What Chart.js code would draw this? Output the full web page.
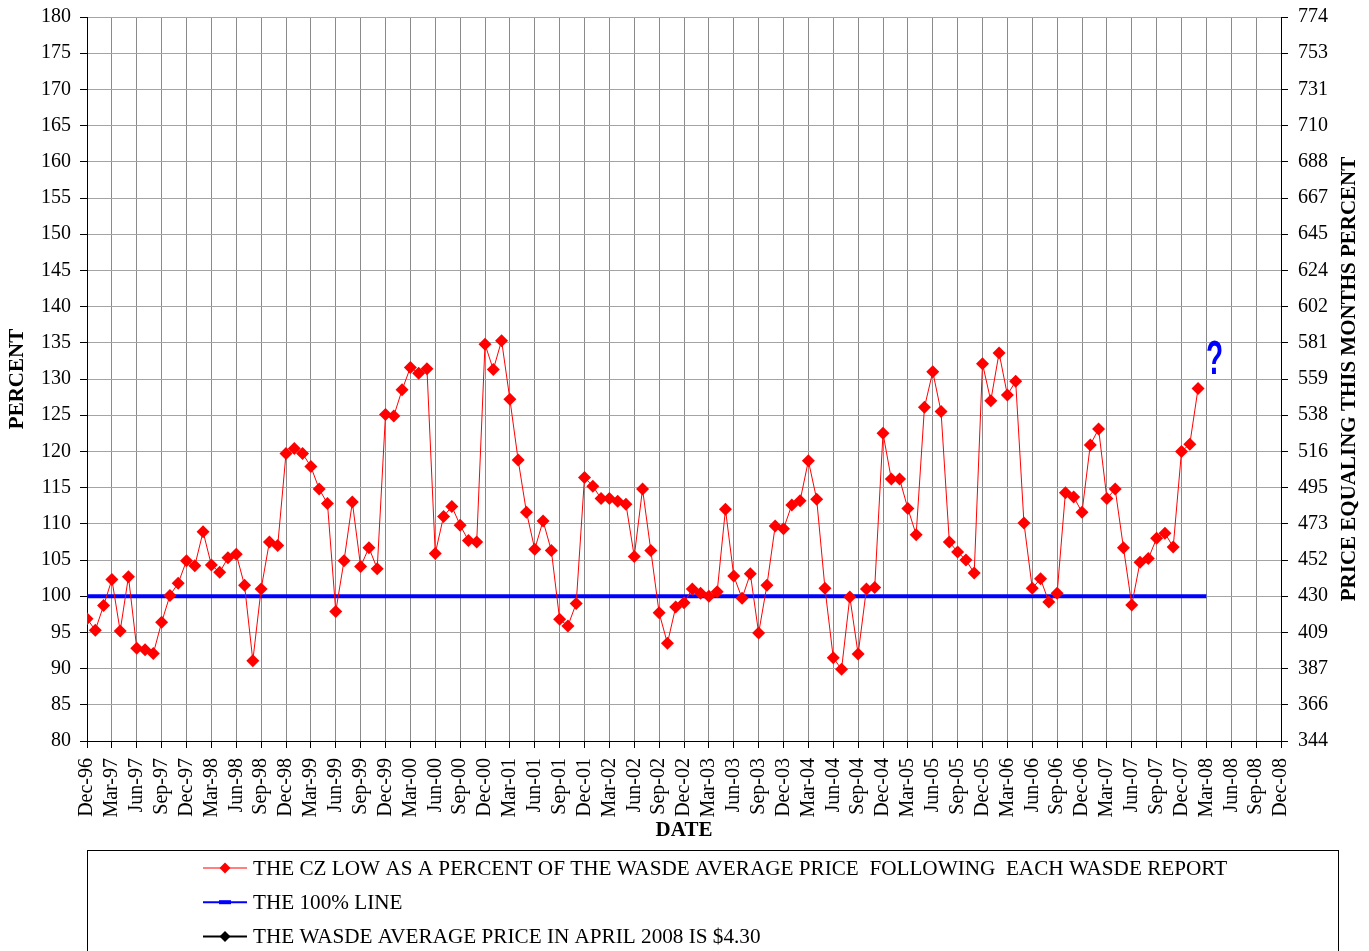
<!DOCTYPE html>
<html>
<head>
<meta charset="utf-8">
<title>CZ low as a percent of WASDE average price</title>
<script src="https://cdn.jsdelivr.net/npm/chart.js@4.4.1/dist/chart.umd.min.js"></script>
<style>
  html, body { margin: 0; padding: 0; background: #fff; }
  #wrap { width: 1369px; height: 951px; }
</style>
</head>
<body>
<div id="wrap"><canvas id="cz-chart" width="1369" height="951"></canvas></div>
<script>
// months counted from Dec-96 (index 0) to Dec-08 (index 144)
const xTickLabels = [
  'Dec-96', 'Mar-97', 'Jun-97', 'Sep-97', 'Dec-97', 'Mar-98', 'Jun-98', 'Sep-98',
  'Dec-98', 'Mar-99', 'Jun-99', 'Sep-99', 'Dec-99', 'Mar-00', 'Jun-00', 'Sep-00',
  'Dec-00', 'Mar-01', 'Jun-01', 'Sep-01', 'Dec-01', 'Mar-02', 'Jun-02', 'Sep-02',
  'Dec-02', 'Mar-03', 'Jun-03', 'Sep-03', 'Dec-03', 'Mar-04', 'Jun-04', 'Sep-04',
  'Dec-04', 'Mar-05', 'Jun-05', 'Sep-05', 'Dec-05', 'Mar-06', 'Jun-06', 'Sep-06',
  'Dec-06', 'Mar-07', 'Jun-07', 'Sep-07', 'Dec-07', 'Mar-08', 'Jun-08', 'Sep-08',
  'Dec-08'
];

// right axis: price equal to each percent of $4.30
const rightTickLabels = [
  '344', '366', '387', '409', '430', '452', '473', '495', '516', '538', '559',
  '581', '602', '624', '645', '667', '688', '710', '731', '753', '774'
];

// CZ low as % of WASDE average price, monthly Dec-96 .. Feb-08
const czLowPct = [
  96.9, 95.3, 98.7, 102.3, 95.2, 102.7, 92.8, 92.6, 92.1, 96.4, 100.1, 101.8,
  104.9, 104.2, 108.9, 104.3, 103.3, 105.3, 105.8, 101.5, 91.1, 101.0, 107.5, 107.0,
  119.7, 120.4, 119.7, 117.9, 114.8, 112.8, 97.9, 104.9, 113.0, 104.1, 106.7, 103.8,
  125.1, 124.9, 128.5, 131.6, 130.8, 131.4, 105.9, 111.0, 112.4, 109.8, 107.7, 107.5,
  134.8, 131.3, 135.3, 127.2, 118.8, 111.6, 106.5, 110.4, 106.3, 96.8, 95.9, 99.0,
  116.4, 115.2, 113.5, 113.5, 113.1, 112.7, 105.5, 114.8, 106.3, 97.7, 93.5, 98.5,
  99.1, 101.0, 100.4, 100.0, 100.6, 112.0, 102.8, 99.7, 103.1, 94.9, 101.5, 109.7,
  109.3, 112.6, 113.2, 118.7, 113.4, 101.1, 91.5, 89.9, 99.9, 92.0, 101.0, 101.2,
  122.5, 116.2, 116.2, 112.1, 108.5, 126.1, 131.0, 125.5, 107.5, 106.1, 105.0, 103.2,
  132.1, 127.0, 133.6, 127.8, 129.7, 110.1, 101.1, 102.4, 99.2, 100.4, 114.3, 113.7,
  111.6, 120.9, 123.1, 113.5, 114.8, 106.7, 98.8, 104.7, 105.2, 108.0, 108.7, 106.8,
  120.0, 121.0, 128.7
];

// the 100% line runs Dec-96 .. Mar-08
const hundredLineMonths = [0, 135];
const hundredLineValues = [100, 100];

const seriesLabels = [
  'THE CZ LOW AS A PERCENT OF THE WASDE AVERAGE PRICE  FOLLOWING  EACH WASDE REPORT',
  'THE 100% LINE',
  'THE WASDE AVERAGE PRICE IN APRIL 2008 IS $4.30'
];

const questionMark = { month: 136, value: 132.6 };

const SERIF = "'Liberation Serif', 'Times New Roman', serif";
const tickFont = { family: SERIF, size: 20 };
const titleFont = { family: SERIF, size: 21, weight: 'bold' };

// fixed axis box sizes so the plot area lands where the original has it
function fixWidth(w) {
  return s => {
    s.width = w;
    s.paddingTop = 0;
    s.paddingBottom = 0;
  };
}

// legend box, right title and the "?" note
const decorPlugin = {
  id: 'decor',
  afterDraw(chart) {
    const ctx = chart.ctx;
    const area = chart.chartArea;
    const xs = chart.scales.x, ys = chart.scales.y;

    // right axis title reads bottom to top
    ctx.save();
    ctx.font = 'bold 21px ' + SERIF;
    ctx.fillStyle = '#000';
    ctx.textAlign = 'center';
    ctx.textBaseline = 'middle';
    ctx.translate(chart.scales.y2.right - 19, (area.top + area.bottom) / 2);
    ctx.rotate(-Math.PI / 2);
    ctx.fillText('PRICE EQUALING THIS MONTHS PERCENT', 0, 0);
    ctx.restore();

    // blue question mark after the last point
    ctx.save();
    ctx.fillStyle = '#0000ff';
    ctx.font = "bold 28px 'Liberation Sans', Arial, sans-serif";
    ctx.textAlign = 'center';
    ctx.textBaseline = 'middle';
    ctx.translate(xs.getPixelForValue(questionMark.month), ys.getPixelForValue(questionMark.value));
    ctx.scale(1, 1.75);
    ctx.fillText('?', 0, 0);
    ctx.restore();

    // legend box
    ctx.save();
    ctx.strokeStyle = '#000';
    ctx.lineWidth = 1;
    ctx.strokeRect(87.5, 850.5, 1251, 200);
    ctx.font = '21.2px ' + SERIF;
    ctx.textBaseline = 'middle';
    ctx.textAlign = 'left';
    chart.data.datasets.forEach((ds, i) => {
      const cy = 868 + i * 34.2;
      ctx.strokeStyle = ds.borderColor;
      ctx.fillStyle = ds.borderColor;
      ctx.lineWidth = i === 0 ? 1 : 2;
      ctx.beginPath();
      ctx.moveTo(203, cy);
      ctx.lineTo(247, cy);
      ctx.stroke();
      if (ds.pointStyle === 'rectRot') {
        ctx.beginPath();
        ctx.moveTo(225, cy - 5.5);
        ctx.lineTo(230.5, cy);
        ctx.lineTo(225, cy + 5.5);
        ctx.lineTo(219.5, cy);
        ctx.closePath();
        ctx.fill();
      } else {
        ctx.fillRect(219, cy - 2, 12, 4);
      }
      ctx.fillStyle = '#000';
      ctx.fillText(ds.label, 253, cy + 1);
    });
    ctx.restore();
  }
};

const canvas = document.getElementById('cz-chart');

new Chart(canvas.getContext('2d'), {
  type: 'line',
  data: {
    datasets: [
      {
        label: seriesLabels[0],
        data: czLowPct.map((v, i) => ({ x: i, y: v })),
        borderColor: '#ff0000',
        backgroundColor: '#ff0000',
        borderWidth: 1,
        tension: 0,
        pointStyle: 'rectRot',
        pointRadius: 6.5,
        pointBorderWidth: 0,
        pointBackgroundColor: '#ff0000',
        order: 1
      },
      {
        label: seriesLabels[1],
        data: hundredLineMonths.map((m, i) => ({ x: m, y: hundredLineValues[i] })),
        borderColor: '#0000ff',
        backgroundColor: '#0000ff',
        borderWidth: 4,
        pointRadius: 0,
        pointStyle: 'rect',
        order: 2
      },
      {
        label: seriesLabels[2],
        data: [],
        borderColor: '#000000',
        backgroundColor: '#000000',
        borderWidth: 2,
        pointStyle: 'rectRot',
        pointRadius: 5
      }
    ]
  },
  options: {
    responsive: false,
    animation: false,
    layout: { padding: { top: 17, bottom: 101, left: 0, right: 0 } },
    plugins: {
      legend: { display: false },
      tooltip: { enabled: false }
    },
    scales: {
      x: {
        type: 'linear',
        min: 0,
        max: 144,
        afterFit: s => { s.height = 109; },
        border: { color: '#000', width: 1 },
        grid: { color: '#8a8a8a', tickColor: '#000', tickLength: 7 },
        ticks: {
          stepSize: 3,
          autoSkip: false,
          maxRotation: 90,
          minRotation: 90,
          padding: 10,
          color: '#000',
          font: tickFont,
          callback: v => xTickLabels[v / 3]
        },
        title: { display: true, text: 'DATE', color: '#000', font: titleFont, padding: { top: 0, bottom: 7 } }
      },
      y: {
        position: 'left',
        min: 80,
        max: 180,
        afterFit: fixWidth(87),
        border: { color: '#000', width: 1 },
        grid: { color: '#a4a4a4', tickColor: '#000', tickLength: 7 },
        ticks: { stepSize: 5, padding: 9, color: '#000', font: tickFont },
        title: { display: true, text: 'PERCENT', color: '#000', font: titleFont, padding: { top: 5, bottom: 0 } }
      },
      y2: {
        position: 'right',
        min: 80,
        max: 180,
        afterFit: fixWidth(88),
        border: { color: '#000', width: 1 },
        grid: { drawOnChartArea: false, tickColor: '#000', tickLength: 7 },
        ticks: {
          stepSize: 5,
          padding: 10,
          color: '#000',
          font: tickFont,
          callback: (v, i) => rightTickLabels[i]
        }
      }
    }
  },
  plugins: [decorPlugin]
});
</script>
</body>
</html>
